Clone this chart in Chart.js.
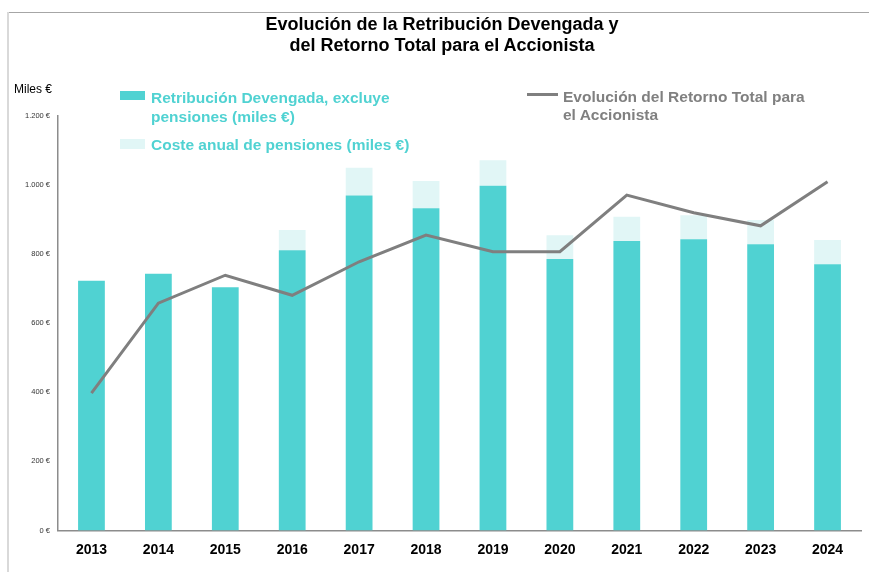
<!DOCTYPE html>
<html lang="es">

<head>
    <meta charset="UTF-8">
    <meta name="viewport" content="width=device-width, initial-scale=1.0">
    <title>Evolución de la Retribución Devengada</title>
    <script src="https://cdn.jsdelivr.net/npm/chart.js"></script>
    <style>
        html, body {
            margin: 0;
            padding: 0;
            background: #ffffff;
        }

        .frame {
            position: relative;
            width: 869px;
            height: 572px;
            overflow: hidden;
            font-family: "Liberation Sans", Arial, sans-serif;
        }

        .frame::before {
            content: "";
            position: absolute;
            left: 8px;
            top: 12px;
            right: 0;
            height: 1px;
            background: #a6a6a6;
        }

        .frame::after {
            content: "";
            position: absolute;
            left: 7px;
            top: 12px;
            bottom: 0;
            width: 2px;
            background: #d9d9d9;
        }

        #mainChart {
            position: absolute;
            left: 0;
            top: 0;
        }

        .title {
            position: absolute;
            left: 442px;
            top: 14px;
            transform: translateX(-50%);
            white-space: nowrap;
            text-align: center;
            font-weight: bold;
            font-size: 18px;
            line-height: 21px;
            color: #000000;
        }

        .units {
            position: absolute;
            left: 14px;
            top: 82px;
            font-size: 12px;
            color: #000000;
        }

        .legend-item {
            position: absolute;
            font-weight: bold;
            font-size: 15.5px;
            line-height: 18.5px;
            white-space: nowrap;
        }

        .swatch {
            position: absolute;
        }
    </style>
</head>

<body>
    <div class="frame">
        <canvas id="mainChart" width="869" height="572"></canvas>

        <div class="title">Evolución de la Retribución Devengada y<br>del Retorno Total para el Accionista</div>
        <div class="units">Miles €</div>

        <!-- Legend -->
        <div class="swatch" style="left:120px;top:91px;width:25px;height:9px;background:#50d2d2"></div>
        <div class="legend-item" style="left:151px;top:89px;color:#50d2d2">Retribución Devengada, excluye<br>pensiones (miles €)</div>

        <div class="swatch" style="left:120px;top:139px;width:25px;height:10px;background:#e1f6f6"></div>
        <div class="legend-item" style="left:151px;top:136px;color:#50d2d2">Coste anual de pensiones (miles €)</div>

        <div class="swatch" style="left:527px;top:93px;width:31px;height:3px;background:#7f7f7f"></div>
        <div class="legend-item" style="left:563px;top:87.5px;color:#808080">Evolución del Retorno Total para<br>el Accionista</div>
    </div>
</body>

<script>
    const years = ["2013", "2014", "2015", "2016", "2017", "2018", "2019", "2020", "2021", "2022", "2023", "2024"];
    const retribucion = [723, 743, 704, 811, 970, 933, 998, 786, 838, 843, 829, 771];
    const pensiones = [0, 0, 0, 59, 80, 79, 74, 69, 70, 70, 70, 70];
    const retornoTotal = [398, 658, 739, 681, 778, 855, 807, 807, 971, 920, 882, 1010];
    const yTicks = [0, 200, 400, 600, 800, 1000, 1200];

    function euro(v) {
        return String(v).replace(/\B(?=(\d{3})+(?!\d))/g, ".") + " €";
    }

    document.addEventListener("DOMContentLoaded", function () {
        const ctx = document.getElementById("mainChart").getContext("2d");
        new Chart(ctx, {
            data: {
                labels: years,
                datasets: [
                    {
                        type: "line",
                        label: "Evolución del Retorno Total para el Accionista",
                        data: retornoTotal,
                        stack: "linea",
                        order: 0,
                        borderColor: "#7f7f7f",
                        borderWidth: 3,
                        pointRadius: 0,
                        tension: 0,
                        fill: false
                    },
                    {
                        type: "bar",
                        label: "Retribución Devengada, excluye pensiones (miles €)",
                        data: retribucion,
                        stack: "barras",
                        order: 1,
                        backgroundColor: "#50d2d2",
                        barPercentage: 0.4,
                        categoryPercentage: 1
                    },
                    {
                        type: "bar",
                        label: "Coste anual de pensiones (miles €)",
                        data: pensiones,
                        stack: "barras",
                        order: 2,
                        backgroundColor: "#e1f6f6",
                        barPercentage: 0.4,
                        categoryPercentage: 1
                    }
                ]
            },
            options: {
                responsive: false,
                animation: false,
                layout: {
                    padding: { left: 0, top: 116, right: 8, bottom: 0 }
                },
                plugins: {
                    legend: { display: false },
                    title: { display: false },
                    tooltip: { enabled: false }
                },
                scales: {
                    x: {
                        stacked: true,
                        grid: { display: false },
                        border: { display: true, color: "#8c8c8c", width: 1.5 },
                        ticks: {
                            color: "#000000",
                            padding: 3,
                            font: { family: "'Liberation Sans', Arial, sans-serif", size: 14, weight: "bold" }
                        },
                        afterFit: function (scale) { scale.height = 41.5; }
                    },
                    y: {
                        stacked: true,
                        min: 0,
                        max: 1200,
                        grid: { display: false },
                        border: { display: true, color: "#8c8c8c", width: 1.5 },
                        afterBuildTicks: function (scale) {
                            scale.ticks = yTicks.map(function (v) { return { value: v }; });
                        },
                        ticks: {
                            color: "#333333",
                            padding: 0,
                            font: { family: "'Liberation Sans', Arial, sans-serif", size: 7.5 },
                            callback: function (value) { return euro(value); }
                        },
                        afterFit: function (scale) { scale.width = 58; }
                    }
                }
            }
        });
    });
</script>

</html>
